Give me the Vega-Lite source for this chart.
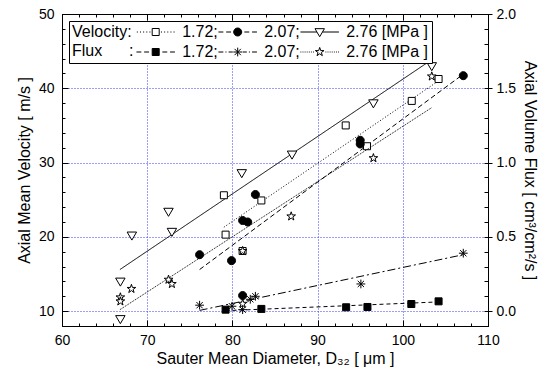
{
  "$schema": "https://vega.github.io/schema/vega-lite/v6.json",
  "width": 426,
  "height": 312,
  "autosize": {"type": "none"},
  "padding": {"left": 62, "top": 14, "right": 66, "bottom": 53},
  "background": "white",
  "config": {
    "font": "Liberation Sans",
    "view": {"stroke": "black", "strokeWidth": 1},
    "axis": {
      "labelFont": "Liberation Sans", "labelFontSize": 14, "labelColor": "black",
      "titleFont": "Liberation Sans", "titleFontSize": 16, "titleFontWeight": "normal", "titleColor": "black",
      "tickColor": "black", "tickWidth": 1, "domainColor": "black", "domainWidth": 1,
      "labelFlush": false, "labelOverlap": false,
      "gridColor": "#3a3aff", "gridDash": [1, 2], "gridOpacity": 1, "gridWidth": 1
    }
  },
  "datasets": {
    "vel": [
      {"series": "V1.72", "kind": "pt", "d": 79.0, "v": 25.6},
      {"series": "V1.72", "kind": "pt", "d": 83.4, "v": 24.9},
      {"series": "V1.72", "kind": "pt", "d": 93.3, "v": 35.0},
      {"series": "V1.72", "kind": "pt", "d": 79.2, "v": 20.3},
      {"series": "V1.72", "kind": "pt", "d": 81.2, "v": 18.1},
      {"series": "V1.72", "kind": "pt", "d": 95.8, "v": 32.2},
      {"series": "V1.72", "kind": "pt", "d": 101.05, "v": 38.3},
      {"series": "V1.72", "kind": "pt", "d": 104.2, "v": 41.25},
      {"series": "V1.72", "kind": "fit", "d": 79.0, "v": 21.3},
      {"series": "V1.72", "kind": "fit", "d": 104.2, "v": 41.0},
      {"series": "V2.07", "kind": "pt", "d": 76.15, "v": 17.6},
      {"series": "V2.07", "kind": "pt", "d": 79.9, "v": 16.8},
      {"series": "V2.07", "kind": "pt", "d": 81.2, "v": 22.2},
      {"series": "V2.07", "kind": "pt", "d": 81.8, "v": 22.0},
      {"series": "V2.07", "kind": "pt", "d": 82.7, "v": 25.7},
      {"series": "V2.07", "kind": "pt", "d": 95.0, "v": 33.0},
      {"series": "V2.07", "kind": "pt", "d": 95.0, "v": 32.5},
      {"series": "V2.07", "kind": "pt", "d": 107.1, "v": 41.7},
      {"series": "V2.07", "kind": "pt", "d": 81.2, "v": 12.1},
      {"series": "V2.07", "kind": "fit", "d": 76.15, "v": 15.6},
      {"series": "V2.07", "kind": "fit", "d": 107.1, "v": 41.9},
      {"series": "V2.76", "kind": "pt", "d": 66.85, "v": 14.0},
      {"series": "V2.76", "kind": "pt", "d": 66.85, "v": 8.95},
      {"series": "V2.76", "kind": "pt", "d": 68.2, "v": 20.2},
      {"series": "V2.76", "kind": "pt", "d": 72.5, "v": 23.4},
      {"series": "V2.76", "kind": "pt", "d": 72.9, "v": 20.7},
      {"series": "V2.76", "kind": "pt", "d": 81.1, "v": 28.6},
      {"series": "V2.76", "kind": "pt", "d": 87.0, "v": 31.1},
      {"series": "V2.76", "kind": "pt", "d": 96.55, "v": 38.0},
      {"series": "V2.76", "kind": "pt", "d": 103.4, "v": 43.0},
      {"series": "V2.76", "kind": "fit", "d": 66.8, "v": 15.6},
      {"series": "V2.76", "kind": "fit", "d": 103.4, "v": 43.85}
    ],
    "flux": [
      {"series": "F1.72", "kind": "pt", "d": 79.2, "f": 0.01},
      {"series": "F1.72", "kind": "pt", "d": 83.4, "f": 0.015},
      {"series": "F1.72", "kind": "pt", "d": 93.35, "f": 0.026},
      {"series": "F1.72", "kind": "pt", "d": 95.85, "f": 0.028},
      {"series": "F1.72", "kind": "pt", "d": 101.0, "f": 0.048},
      {"series": "F1.72", "kind": "pt", "d": 104.2, "f": 0.066},
      {"series": "F1.72", "kind": "fit", "d": 79.2, "f": 0.003},
      {"series": "F1.72", "kind": "fit", "d": 104.2, "f": 0.062},
      {"series": "F2.07", "kind": "pt", "d": 76.15, "f": 0.04},
      {"series": "F2.07", "kind": "pt", "d": 79.95, "f": 0.033},
      {"series": "F2.07", "kind": "pt", "d": 81.2, "f": 0.01},
      {"series": "F2.07", "kind": "pt", "d": 82.1, "f": 0.08},
      {"series": "F2.07", "kind": "pt", "d": 82.7, "f": 0.1},
      {"series": "F2.07", "kind": "pt", "d": 95.08, "f": 0.183},
      {"series": "F2.07", "kind": "pt", "d": 107.1, "f": 0.39},
      {"series": "F2.07", "kind": "fit", "d": 76.15, "f": 0.005},
      {"series": "F2.07", "kind": "fit", "d": 107.1, "f": 0.38},
      {"series": "F2.76", "kind": "pt", "d": 66.85, "f": 0.093},
      {"series": "F2.76", "kind": "pt", "d": 66.85, "f": 0.066},
      {"series": "F2.76", "kind": "pt", "d": 68.15, "f": 0.15},
      {"series": "F2.76", "kind": "pt", "d": 72.5, "f": 0.212},
      {"series": "F2.76", "kind": "pt", "d": 72.9, "f": 0.183},
      {"series": "F2.76", "kind": "pt", "d": 81.2, "f": 0.405},
      {"series": "F2.76", "kind": "pt", "d": 81.2, "f": 0.05},
      {"series": "F2.76", "kind": "pt", "d": 86.9, "f": 0.638},
      {"series": "F2.76", "kind": "pt", "d": 96.55, "f": 1.03},
      {"series": "F2.76", "kind": "pt", "d": 103.4, "f": 1.58},
      {"series": "F2.76", "kind": "fit", "d": 66.8, "f": 0.01},
      {"series": "F2.76", "kind": "fit", "d": 103.4, "f": 1.37}
    ]
  },
  "layer": [
    {
      "data": {"name": "vel"},
      "layer": [
        {
          "transform": [{"filter": "datum.kind == 'fit'"}],
          "mark": {"type": "line", "color": "black", "strokeWidth": 1},
          "encoding": {
            "x": {"field": "d", "type": "quantitative", "scale": {"domain": [60, 110], "nice": false, "zero": false},
              "axis": {"orient": "bottom", "values": [60, 70, 80, 90, 100, 110], "tickSize": -6, "labelPadding": 13, "grid": true, "title": "Sauter Mean Diameter, D₃₂  [ μm ]", "titlePadding": 3}},
            "y": {"field": "v", "type": "quantitative", "scale": {"domain": [8, 50], "nice": false, "zero": false},
              "axis": {"orient": "left", "values": [10, 20, 30, 40, 50], "tickSize": -6, "labelPadding": 14, "grid": true, "title": "Axial Mean Velocity [ m/s ]", "titlePadding": 6}},
            "detail": {"field": "series"},
            "strokeDash": {"field": "series", "type": "nominal", "legend": null,
              "scale": {"domain": ["F2.76", "F2.07", "F1.72", "V2.76", "V2.07", "V1.72"], "range": [[1, 1], [8, 3, 2, 3], [4, 3], [1, 0], [5, 3], [1, 2]]}}
          }
        },
        {
          "transform": [{"filter": "datum.kind == 'pt'"}],
          "mark": {"type": "point", "filled": true, "stroke": "black", "strokeWidth": 1, "size": 49, "opacity": 1},
          "encoding": {
            "x": {"field": "d", "type": "quantitative", "scale": {"domain": [60, 110], "nice": false, "zero": false},
              "axis": {"orient": "bottom", "values": [60, 62, 64, 66, 68, 70, 72, 74, 76, 78, 80, 82, 84, 86, 88, 90, 92, 94, 96, 98, 100, 102, 104, 106, 108, 110], "tickSize": -3, "labels": false, "domain": false, "grid": false, "title": null}},
            "y": {"field": "v", "type": "quantitative", "scale": {"domain": [8, 50], "nice": false, "zero": false},
              "axis": {"orient": "left", "values": [8, 10, 12, 14, 16, 18, 20, 22, 24, 26, 28, 30, 32, 34, 36, 38, 40, 42, 44, 46, 48, 50], "tickSize": -3, "labels": false, "domain": false, "grid": false, "title": null}},
            "shape": {"field": "series", "type": "nominal", "legend": null,
              "scale": {"domain": ["F2.76", "F2.07", "F1.72", "V2.76", "V2.07", "V1.72"],
                "range": ["M0,-1.3L0.294,-0.405L1.236,-0.402L0.476,0.155L0.764,1.052L0,0.5L-0.764,1.052L-0.476,0.155L-1.236,-0.402L-0.294,-0.405Z", "M-1.25,0H1.25M0,-1.25V1.25M-0.9,-0.9L0.9,0.9M-0.9,0.9L0.9,-0.9", "square", "M-1.35,-0.95H1.35L0,1.35Z", "M1.15,0A1.15,1.15,0,1,1,-1.15,0A1.15,1.15,0,1,1,1.15,0Z", "square"]}},
            "fill": {"field": "series", "type": "nominal",
              "scale": {"domain": ["V1.72", "V2.07", "V2.76", "F1.72", "F2.07", "F2.76"], "range": ["white", "black", "white", "black", "black", "white"]},
              "legend": {
                "orient": "top-left", "offset": 7, "direction": "horizontal", "columns": 3, "gridAlign": "each",
                "title": ["\u00a0\u00a0Velocity:", "\u00a0\u00a0Flux\u00a0\u00a0\u00a0\u00a0\u00a0\u00a0:"],
                "titleOrient": "left", "titleAnchor": "start", "titleFont": "Liberation Sans", "titleFontSize": 16, "titleFontWeight": "normal", "titleColor": "black",
                "titleLineHeight": 19, "titlePadding": 2, "titleBaseline": "top",
                "labelFont": "Liberation Sans", "labelFontSize": 16, "labelColor": "black",
                "labelExpr": "(datum.value == 'V2.76' || datum.value == 'F2.76') ? '2.76 [MPa ]' : substring(datum.value, 1) + ';'",
                "symbolSize": 49, "symbolOffset": 11.7, "labelOffset": 18.5, "columnPadding": -3.5, "rowPadding": 4,
                "padding": 3, "fillColor": "white", "strokeColor": "black", "cornerRadius": 0,
                "symbolStrokeColor": "black", "symbolStrokeWidth": 1,
                "encoding": {"symbols": {
                  "stroke": {"value": "black"},
                  "strokeWidth": {"value": 1},
                  "shape": {"value": {"expr": "datum.value == 'V1.72' ? 'M-5.4,0h0.3M-4.5,0h0.3M-3.6,0h0.3M-2.7,0h0.3M-1.8,0h0.3M1.5,0h0.3M2.4,0h0.3M3.3,0h0.3M4.2,0h0.3M5.1,0h0.3M-1,-1H1V1H-1Z' : datum.value == 'V2.07' ? 'M-5.5,0h1.4M-3.3,0h1.4M1.9,0h1.4M4.1,0h1.4M1.15,0A1.15,1.15,0,1,1,-1.15,0A1.15,1.15,0,1,1,1.15,0Z' : datum.value == 'V2.76' ? 'M-5.5,0H-0.8M0.8,0H5.5M-1.35,-0.95H1.35L0,1.35Z' : datum.value == 'F1.72' ? 'M-5.5,0h1.4M-3.3,0h1.4M1.9,0h1.4M4.1,0h1.4M-1,-1H1V1H-1Z' : datum.value == 'F2.07' ? 'M-5.5,0h1.4M-3.5,0h0.3M-2.6,0h1.2M1.4,0h1.2M3.2,0h0.3M4.1,0h1.4M-1.25,0H1.25M0,-1.25V1.25M-0.9,-0.9L0.9,0.9M-0.9,0.9L0.9,-0.9' : 'M-5.5,0h0.25M-4.9,0h0.25M-4.3,0h0.25M-3.7,0h0.25M-3.1,0h0.25M-2.5,0h0.25M-1.9,0h0.25M1.65,0h0.25M2.25,0h0.25M2.85,0h0.25M3.45,0h0.25M4.05,0h0.25M4.65,0h0.25M5.25,0h0.25M0,-1.3L0.294,-0.405L1.236,-0.402L0.476,0.155L0.764,1.052L0,0.5L-0.764,1.052L-0.476,0.155L-1.236,-0.402L-0.294,-0.405Z'"}}
                }}
              }}
          }
        }
      ],
      "resolve": {"axis": {"x": "independent", "y": "independent"}}
    },
    {
      "data": {"name": "flux"},
      "layer": [
        {
          "transform": [{"filter": "datum.kind == 'fit'"}],
          "mark": {"type": "line", "color": "black", "strokeWidth": 1},
          "encoding": {
            "x": {"field": "d", "type": "quantitative", "scale": {"domain": [60, 110], "nice": false, "zero": false},
              "axis": {"orient": "top", "values": [60, 70, 80, 90, 100, 110], "tickSize": -6, "labels": false, "grid": false, "title": null}},
            "y": {"field": "f", "type": "quantitative", "scale": {"domain": [-0.1, 2.0], "nice": false, "zero": false},
              "axis": {"orient": "right", "values": [0, 0.5, 1, 1.5, 2], "format": ".1f", "tickSize": 4, "labelPadding": 4, "grid": false, "title": "Axial Volume Flux [ cm³/cm²/s ]", "titlePadding": 6}},
            "detail": {"field": "series"},
            "strokeDash": {"field": "series", "type": "nominal", "legend": null,
              "scale": {"domain": ["F2.76", "F2.07", "F1.72", "V2.76", "V2.07", "V1.72"], "range": [[1, 1], [8, 3, 2, 3], [4, 3], [1, 0], [5, 3], [1, 2]]}}
          }
        },
        {
          "transform": [{"filter": "datum.kind == 'pt'"}],
          "mark": {"type": "point", "filled": true, "stroke": "black", "strokeWidth": 1, "size": 49, "opacity": 1},
          "encoding": {
            "x": {"field": "d", "type": "quantitative", "scale": {"domain": [60, 110], "nice": false, "zero": false},
              "axis": {"orient": "top", "values": [60, 62, 64, 66, 68, 70, 72, 74, 76, 78, 80, 82, 84, 86, 88, 90, 92, 94, 96, 98, 100, 102, 104, 106, 108, 110], "tickSize": -3, "labels": false, "domain": false, "grid": false, "title": null}},
            "y": {"field": "f", "type": "quantitative", "scale": {"domain": [-0.1, 2.0], "nice": false, "zero": false},
              "axis": {"orient": "right", "values": [-0.1, 0, 0.1, 0.2, 0.3, 0.4, 0.5, 0.6, 0.7, 0.8, 0.9, 1.0, 1.1, 1.2, 1.3, 1.4, 1.5, 1.6, 1.7, 1.8, 1.9, 2.0], "tickSize": -4, "labels": false, "domain": false, "grid": false, "title": null}},
            "shape": {"field": "series", "type": "nominal", "legend": null,
              "scale": {"domain": ["F2.76", "F2.07", "F1.72", "V2.76", "V2.07", "V1.72"],
                "range": ["M0,-1.3L0.294,-0.405L1.236,-0.402L0.476,0.155L0.764,1.052L0,0.5L-0.764,1.052L-0.476,0.155L-1.236,-0.402L-0.294,-0.405Z", "M-1.25,0H1.25M0,-1.25V1.25M-0.9,-0.9L0.9,0.9M-0.9,0.9L0.9,-0.9", "square", "M-1.35,-0.95H1.35L0,1.35Z", "M1.15,0A1.15,1.15,0,1,1,-1.15,0A1.15,1.15,0,1,1,1.15,0Z", "square"]}},
            "fill": {"field": "series", "type": "nominal",
              "scale": {"domain": ["V1.72", "V2.07", "V2.76", "F1.72", "F2.07", "F2.76"], "range": ["white", "black", "white", "black", "black", "white"]}}
          }
        }
      ],
      "resolve": {"axis": {"x": "independent", "y": "independent"}}
    }
  ],
  "resolve": {"scale": {"y": "independent"}, "axis": {"x": "independent", "y": "independent"}}
}
